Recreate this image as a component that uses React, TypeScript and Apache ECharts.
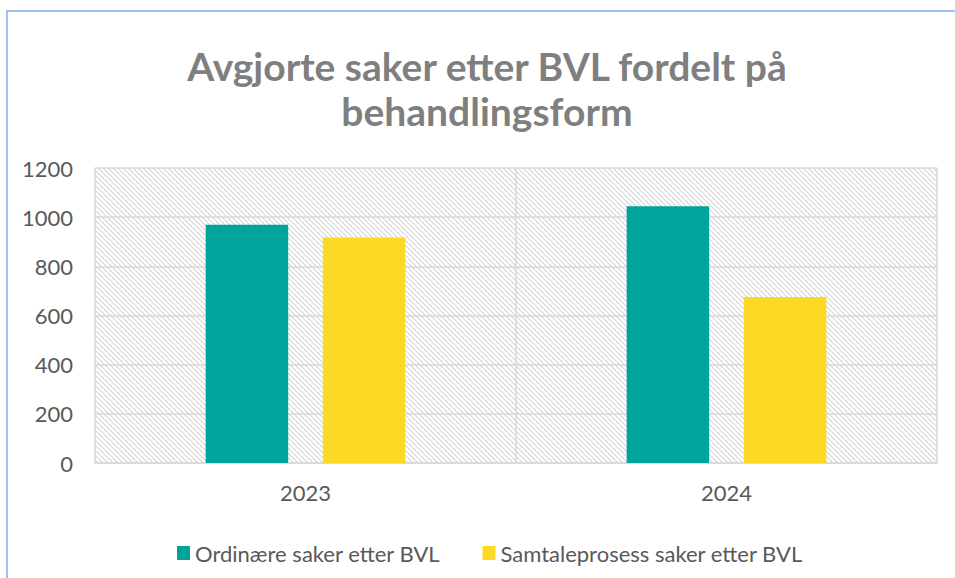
import React, { useEffect, useRef } from "react";
import * as echarts from "echarts";

const categories = ["2023", "2024"];
const seriesNames = ["Ordinære saker etter BVL", "Samtaleprosess saker etter BVL"];
const ordinaere = [969, 1044];
const samtale = [917, 675];
const yTicks = { min: 0, max: 1200, interval: 200 };
const titleText = "Avgjorte saker etter BVL fordelt på\nbehandlingsform";

function makeHatch(): string {
  const size = 5;
  const c = document.createElement("canvas");
  c.width = size;
  c.height = size;
  const ctx = c.getContext("2d")!;
  ctx.fillStyle = "#ffffff";
  ctx.fillRect(0, 0, size, size);
  ctx.strokeStyle = "#d4d4d4";
  ctx.lineWidth = 1.1;
  ctx.beginPath();
  ctx.moveTo(-1, -1);
  ctx.lineTo(size + 1, size + 1);
  ctx.moveTo(-1, size - 1);
  ctx.lineTo(1, size + 1);
  ctx.moveTo(size - 1, -1);
  ctx.lineTo(size + 1, 1);
  ctx.stroke();
  return c.toDataURL();
}

export default function App() {
  const ref = useRef<HTMLDivElement>(null);
  useEffect(() => {
    if (!ref.current) return;
    const chart = echarts.init(ref.current, null, { renderer: "svg" });
    const font = "Lato, 'Open Sans', sans-serif";
    chart.setOption({
      animation: false,
      backgroundColor: "#ffffff",
      textStyle: { fontFamily: font },
      graphic: [
        {
          type: "rect",
          shape: { x: 7, y: 11, width: 1000, height: 700 },
          style: { fill: "none", stroke: "#9cc2f6", lineWidth: 2 },
          silent: true,
          z: 100,
        },
        {
          type: "text",
          x: 487,
          y: 88,
          style: {
            text: titleText,
            fill: "#7f7f7f",
            font: `bold 39px ${font}`,
            textAlign: "center",
            textVerticalAlign: "middle",
            lineHeight: 45,
          },
        },
      ],
      legend: {
        left: 172,
        top: 537,
        itemWidth: 13,
        itemHeight: 14,
        itemGap: 42,
        icon: "rect",
        textStyle: { color: "#595959", fontSize: 22, fontFamily: font },
        data: seriesNames,
      },
      grid: {
        left: 95,
        right: 18,
        top: 168,
        bottom: 115,
        show: true,
        borderWidth: 0,
        backgroundColor: {
          image: makeHatch(),
          repeat: "repeat",
          imageWidth: 5,
          imageHeight: 5,
        },
      },
      xAxis: {
        type: "category",
        data: categories,
        axisLine: { show: true, lineStyle: { color: "#d9d9d9", width: 1.5 } },
        axisTick: { show: false },
        splitLine: { show: true, lineStyle: { color: "#d9d9d9", width: 1.5 } },
        axisLabel: { color: "#595959", fontSize: 22, margin: 18, fontFamily: font },
      },
      yAxis: {
        type: "value",
        min: yTicks.min,
        max: yTicks.max,
        interval: yTicks.interval,
        axisLine: { show: false },
        axisTick: { show: false },
        splitLine: { show: true, lineStyle: { color: "#d9d9d9", width: 1.5 } },
        axisLabel: {
          color: "#595959",
          fontSize: 22,
          margin: 22,
          fontFamily: font,
          formatter: (v: number) => String(v),
        },
      },
      series: [
        {
          name: seriesNames[0],
          type: "bar",
          data: ordinaere,
          barWidth: "19.6%",
          barGap: "42%",
          itemStyle: { color: "#00a49a" },
        },
        {
          name: seriesNames[1],
          type: "bar",
          data: samtale,
          barWidth: "19.6%",
          barGap: "42%",
          itemStyle: { color: "#fbd924" },
        },
      ],
    });
    return () => chart.dispose();
  }, []);
  return (
    <div
      ref={ref}
      style={{ position: "fixed", left: 0, top: 0, width: 955, height: 578 }}
    />
  );
}
